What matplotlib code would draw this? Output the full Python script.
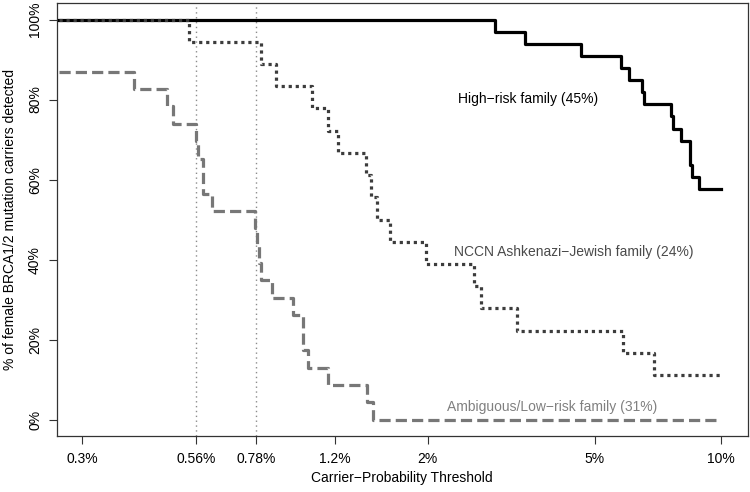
import matplotlib
matplotlib.use('Agg')
import matplotlib.pyplot as plt
from matplotlib.ticker import FixedLocator, NullLocator

plt.rcParams['font.family'] = ['Liberation Sans', 'DejaVu Sans']

# threshold (%) where each step starts, and % of carriers detected
thr_high = [0.265, 2.90, 3.41, 4.63, 5.78, 6.05, 6.49, 6.55, 7.59, 7.68, 8.02, 8.46, 8.53, 8.86, 10.0]
det_high = [100, 97.0, 93.9, 90.9, 87.9, 84.8, 81.8, 78.8, 75.8, 72.7, 69.7, 63.6, 60.6, 57.6, 57.6]

thr_nccn = [0.265, 0.540, 0.803, 0.869, 1.057, 1.158, 1.219, 1.422, 1.469, 1.515, 1.624, 1.977,
            2.577, 2.674, 3.273, 5.83, 6.94, 10.0]
det_nccn = [100, 94.4, 88.9, 83.3, 77.8, 72.2, 66.7, 61.1, 55.6, 50.0, 44.4, 38.9,
            33.3, 27.8, 22.2, 16.7, 11.1, 11.1]

thr_amb = [0.265, 0.40, 0.477, 0.494, 0.562, 0.566, 0.583, 0.611, 0.774, 0.782, 0.793, 0.803,
           0.849, 0.956, 1.010, 1.037, 1.158, 1.430, 1.483, 10.0]
det_amb = [87.0, 82.6, 78.3, 73.9, 69.6, 65.2, 56.5, 52.2, 47.8, 43.5, 39.1, 34.8,
           30.4, 26.1, 17.4, 13.0, 8.7, 4.3, 0.0, 0.0]

ref_thresholds = [0.56, 0.78]
x_ticks = [0.3, 0.56, 0.78, 1.2, 2, 5, 10]
x_labels = ['0.3%', '0.56%', '0.78%', '1.2%', '2%', '5%', '10%']
y_ticks = [0, 20, 40, 60, 80, 100]
y_labels = ['0%', '20%', '40%', '60%', '80%', '100%']

fig = plt.figure(figsize=(7.5, 4.92), dpi=100)
ax = fig.add_axes([0.0756, 0.1144, 0.9217, 0.8801])

for t in ref_thresholds:
    ax.axvline(t, color='#8c8c8c', lw=1.0, ls=(0, (1, 2.5)), zorder=1)

ax.step(thr_high, det_high, where='post', color='black', lw=2.3, zorder=3)
ax.step(thr_nccn, det_nccn, where='post', color='#3c3c3c', lw=2.3,
        ls=(0, (1, 1.2)), zorder=4)
ax.step(thr_amb, det_amb, where='post', color='#777777', lw=2.3,
        ls=(0, (3.5, 1.6)), zorder=5)

ax.text(3.47, 80.2, 'High\u2212risk family (45%)', color='black', fontsize=10,
        ha='center', va='center')
ax.text(4.46, 42.0, 'NCCN Ashkenazi\u2212Jewish family (24%)', color='#4a4a4a',
        fontsize=10, ha='center', va='center')
ax.text(3.97, 3.3, 'Ambiguous/Low\u2212risk family (31%)', color='#808080',
        fontsize=10, ha='center', va='center')

ax.set_xscale('log')
ax.set_xlim(0.261, 11.6)
ax.set_ylim(-4, 104.2)
ax.xaxis.set_major_locator(FixedLocator(x_ticks))
ax.xaxis.set_minor_locator(NullLocator())
ax.set_xticklabels(x_labels)
ax.set_yticks(y_ticks)
ax.set_yticklabels(y_labels, rotation=90, va='center')

for s in ax.spines.values():
    s.set_color('#333333')
    s.set_linewidth(0.9)
ax.tick_params(axis='both', length=5.5, width=0.8, color='#333333',
               labelsize=10, direction='out')
ax.tick_params(axis='x', pad=6)
ax.tick_params(axis='y', pad=5)

fig.text(402 / 750, 1 - 478 / 492, 'Carrier\u2212Probability Threshold',
         ha='center', va='center', fontsize=10)
fig.text(10 / 750, 1 - 219 / 492, '% of female BRCA1/2 mutation carriers detected',
         ha='center', va='center', rotation=90, fontsize=10)

fig.savefig('out.png', dpi=100)
